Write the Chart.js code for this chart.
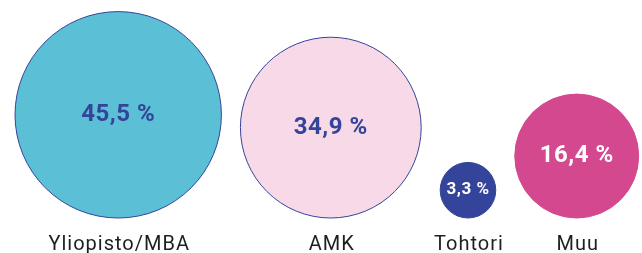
<!DOCTYPE html>
<html>
<head>
<meta charset="utf-8">
<script src="https://cdn.jsdelivr.net/npm/chart.js@4"></script>
<style>
  html, body { margin: 0; padding: 0; background: #fff; }
  #wrap { width: 642px; height: 253px; }
</style>
</head>
<body>
<div id="wrap"><canvas id="bubbleChart"></canvas></div>
<script>
const categories = ["Yliopisto/MBA", "AMK", "Tohtori", "Muu"];
const shares = [45.5, 34.9, 3.3, 16.4];
const valueLabels = ["45,5 %", "34,9 %", "3,3 %", "16,4 %"];

const fillColors = ["#5bc0d6", "#f7d9e8", "#34449a", "#d4488f"];
const borderColors = ["#34449a", "#34449a", "#34449a", "#d4488f"];
const textColors = ["#34449a", "#34449a", "#ffffff", "#ffffff"];
const textSizes = [24, 24, 17, 24];

// bubble area proportional to share; circles sit on a common baseline
const pxPerSqrt = 15.3;
const gap = 19;
const leftMargin = 15;
const plotHeight = 218;

const radii = shares.map(v => pxPerSqrt * Math.sqrt(v));
const xs = [];
radii.forEach((r, i) => {
  xs.push(i === 0 ? leftMargin + r : xs[i - 1] + radii[i - 1] + gap + r);
});

const labelPlugin = {
  id: "bubbleLabels",
  afterDatasetsDraw(chart) {
    const ctx = chart.ctx;
    const meta = chart.getDatasetMeta(0);
    ctx.save();
    ctx.textAlign = "center";
    meta.data.forEach((pt, i) => {
      ctx.textBaseline = "middle";
      ctx.fillStyle = textColors[i];
      ctx.font = `bold ${textSizes[i]}px Roboto`;
      ctx.letterSpacing = "0.5px";
      ctx.fillText(valueLabels[i], pt.x, pt.y);

      ctx.textBaseline = "alphabetic";
      ctx.fillStyle = "#1f1f1f";
      ctx.font = "20px Roboto";
      ctx.letterSpacing = "1px";
      ctx.fillText(categories[i], pt.x + 1, chart.chartArea.bottom + 32);
    });
    ctx.restore();
  }
};

new Chart(document.getElementById("bubbleChart"), {
  type: "bubble",
  data: {
    datasets: [{
      data: shares.map((v, i) => ({ x: xs[i], y: radii[i], r: radii[i] })),
      backgroundColor: fillColors,
      borderColor: borderColors,
      borderWidth: 1,
      clip: false,
    }],
  },
  options: {
    responsive: true,
    maintainAspectRatio: false,
    animation: false,
    layout: { autoPadding: false, padding: { top: 0, left: 0, right: 0, bottom: 35 } },
    plugins: { legend: { display: false }, tooltip: { enabled: false } },
    scales: {
      x: { type: "linear", min: 0, max: 642, display: false },
      y: { type: "linear", min: 0, max: plotHeight, display: false },
    },
  },
  plugins: [labelPlugin],
});
</script>
</body>
</html>
